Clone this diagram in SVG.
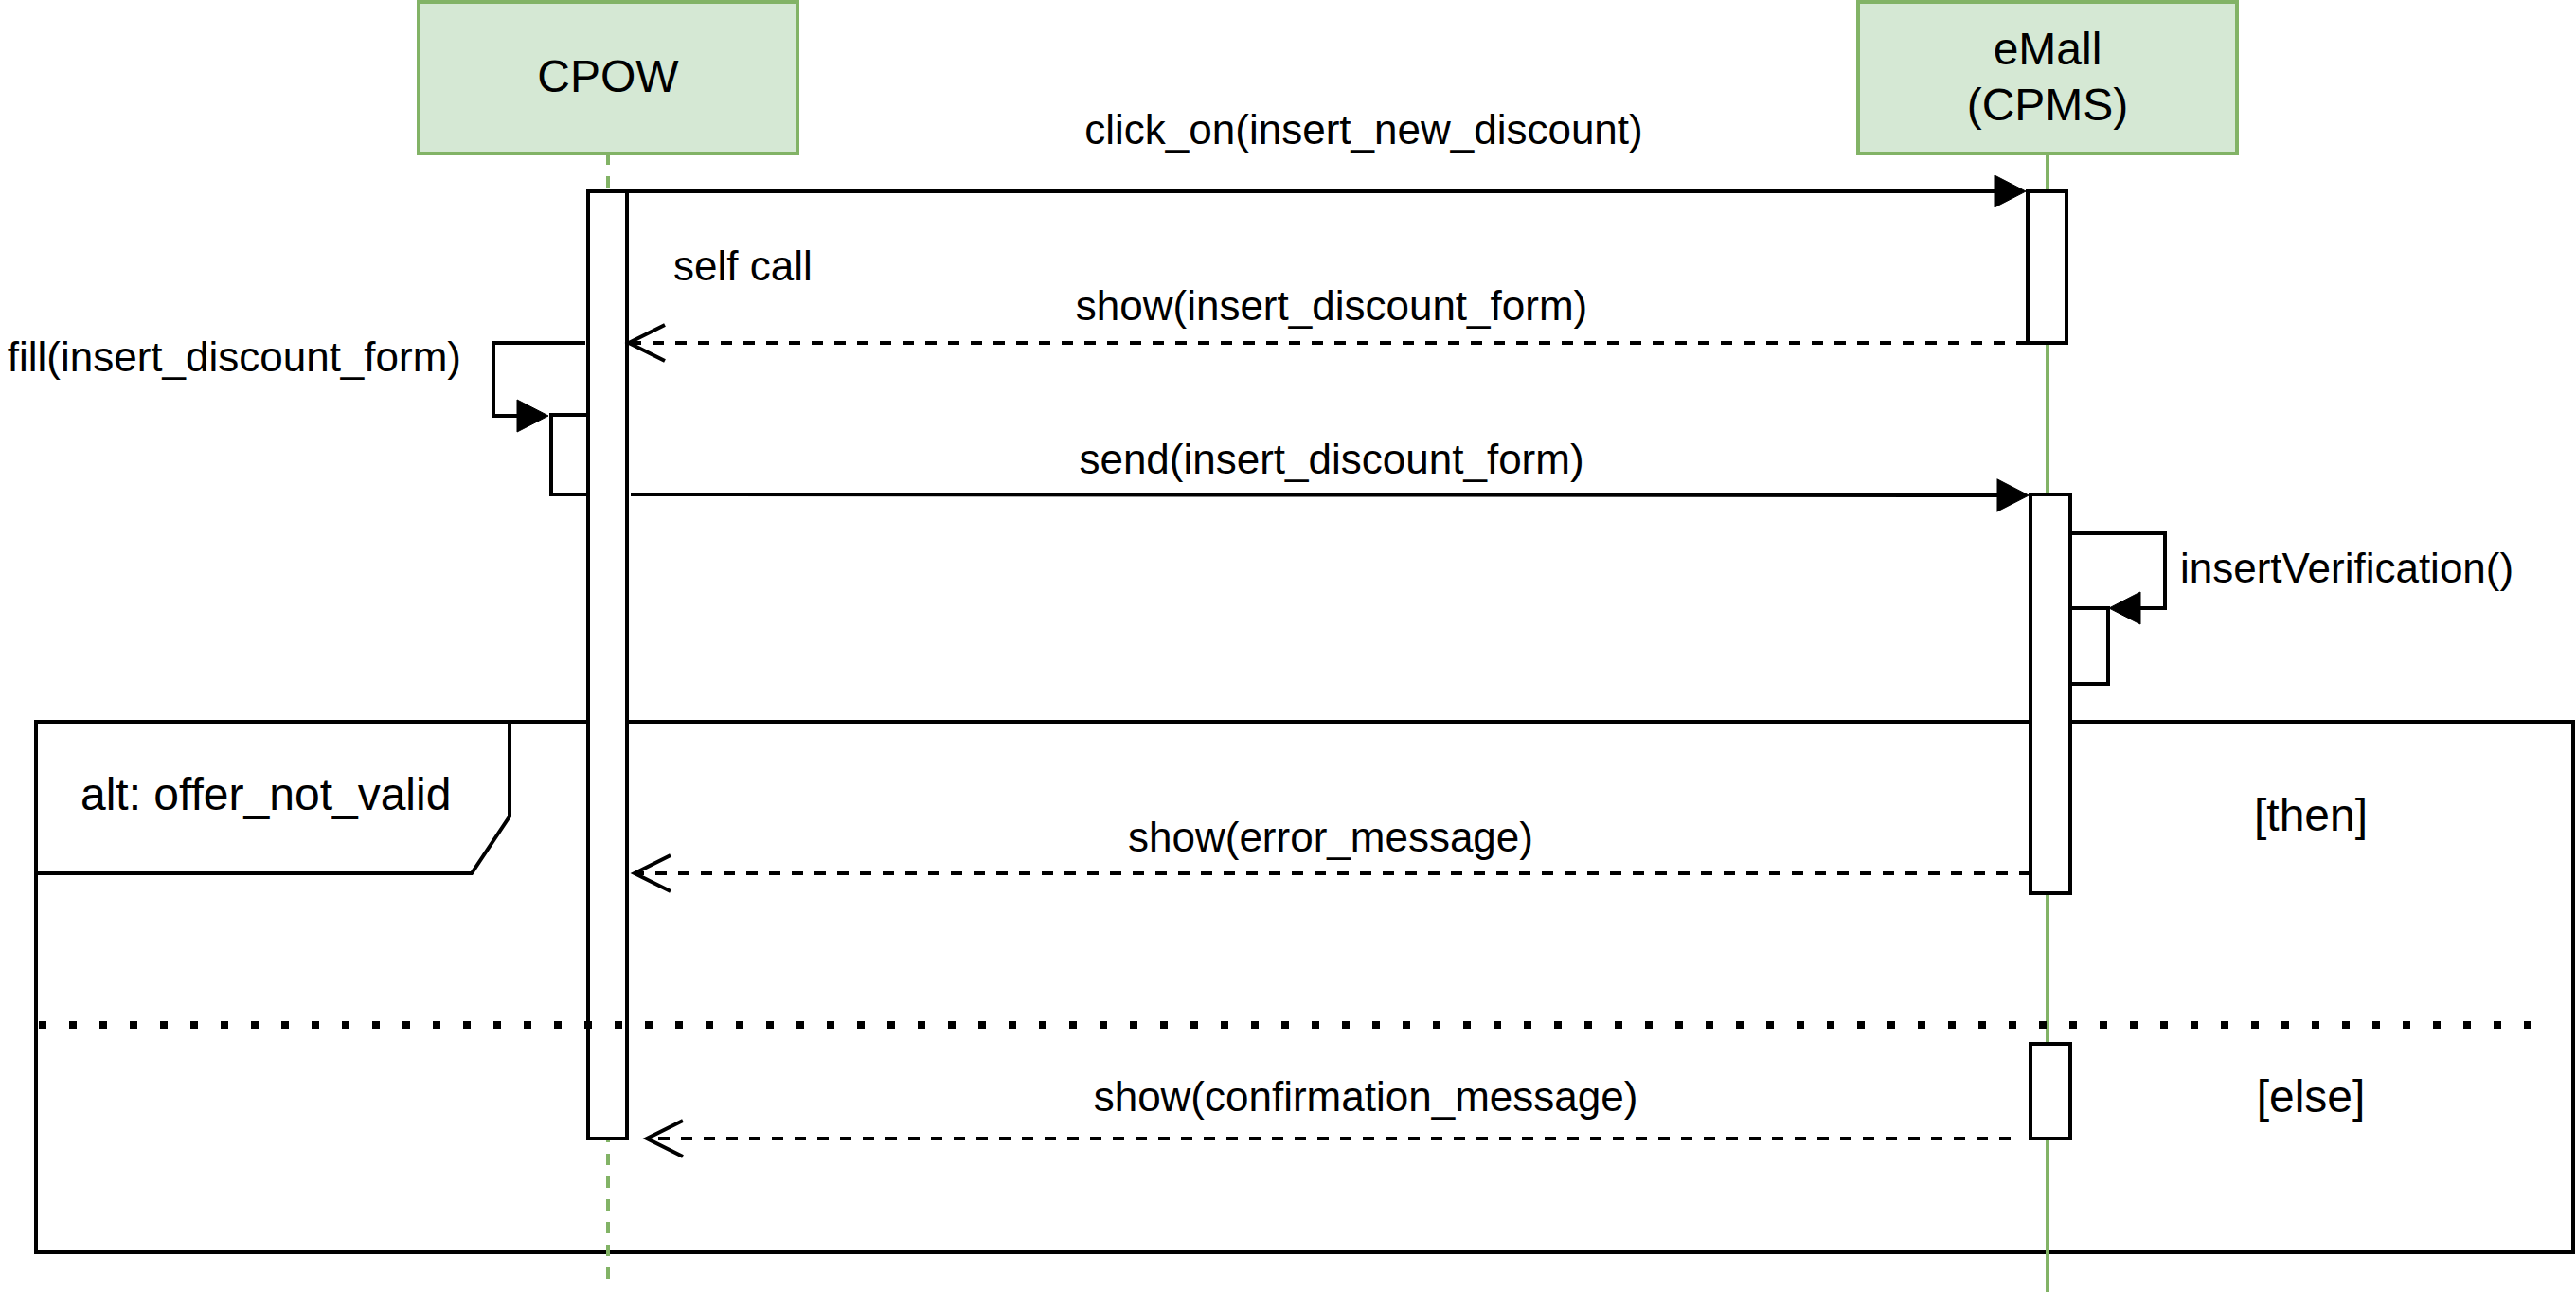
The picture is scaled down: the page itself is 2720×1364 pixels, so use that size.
<svg xmlns="http://www.w3.org/2000/svg" width="2720" height="1364" viewBox="0 0 2720 1364">
<style>
.hdr{fill:#d5e8d4;stroke:#82b366;stroke-width:4}
.life{stroke:#82b366;stroke-width:4;fill:none}
.bar{fill:#ffffff;stroke:#000;stroke-width:4}
.msg{stroke:#000;stroke-width:4;fill:none;stroke-linejoin:miter}
.ret{stroke:#000;stroke-width:4;fill:none;stroke-dasharray:12 12}
.frame{fill:none;stroke:#000;stroke-width:4;stroke-linejoin:miter}
.t48{font-family:"Liberation Sans",Arial,sans-serif;font-size:48px;fill:#000}
.t44{font-family:"Liberation Sans",Arial,sans-serif;font-size:44px;fill:#000}
</style>
<defs>
<marker id="block" markerUnits="userSpaceOnUse" viewBox="-20 -20 44 40" markerWidth="44" markerHeight="40" refX="0" refY="0" orient="auto" overflow="visible">
<path d="M-13,-17 L20,0 L-13,17 Z" fill="#000" stroke="#000" stroke-width="1"/>
</marker>
<marker id="open" markerUnits="userSpaceOnUse" viewBox="-44 -24 48 48" markerWidth="48" markerHeight="48" refX="0" refY="0" orient="auto" overflow="visible">
<path d="M-38,-19 L0,0 L-38,19" fill="none" stroke="#000" stroke-width="4" stroke-linejoin="miter"/>
</marker>
</defs>

<g id="alt-frame">
<rect class="frame" x="38" y="762" width="2679" height="560"/>
<path class="frame" d="M38,762 H538 V862 L498,922 H38"/>
<text class="t48" x="85" y="855">alt: offer_not_valid</text>
<text class="t48" x="2440" y="877" text-anchor="middle">[then]</text>
<text class="t48" x="2440" y="1174" text-anchor="middle">[else]</text>
</g>

<g id="cpow">
<rect class="hdr" x="442" y="2" width="400" height="160"/>
<text class="t48" x="642" y="97" text-anchor="middle">CPOW</text>
<line class="life" x1="642" y1="162" x2="642" y2="1362" stroke-dasharray="12 12"/>
</g>

<g id="emall">
<rect class="hdr" x="1962" y="2" width="400" height="160"/>
<text class="t48" x="2162" y="68" text-anchor="middle">eMall</text>
<text class="t48" x="2162" y="127" text-anchor="middle">(CPMS)</text>
<line class="life" x1="2162" y1="162" x2="2162" y2="1364"/>
</g>

<g id="cpow-activation">
<rect class="bar" x="621" y="202" width="41" height="1000"/>
</g>
<g id="cpow-fill-activation">
<rect class="bar" x="582" y="438" width="39" height="84"/>
</g>
<g id="emall-activation-1">
<rect class="bar" x="2141" y="202" width="41" height="160"/>
</g>
<g id="emall-activation-2">
<rect class="bar" x="2144" y="522" width="42" height="421"/>
</g>
<g id="emall-verification-activation">
<rect class="bar" x="2186" y="642" width="40" height="80"/>
</g>
<g id="emall-activation-3">
<rect class="bar" x="2144" y="1102" width="42" height="100"/>
</g>

<g id="connectors">
<line class="msg" x1="662" y1="202" x2="2119" y2="202" marker-end="url(#block)"/>
<text class="t44" x="1440" y="152" text-anchor="middle">click_on(insert_new_discount)</text>

<line class="ret" x1="2141" y1="362" x2="664" y2="362" marker-end="url(#open)"/>
<text class="t44" x="1406" y="338" text-anchor="middle">show(insert_discount_form)</text>

<path class="msg" d="M618,362 H521 V439 H559" marker-end="url(#block)"/>
<text class="t44" x="487" y="392" text-anchor="end">fill(insert_discount_form)</text>
<text class="t44" x="711" y="296">self call</text>

<line class="msg" x1="666" y1="522" x2="2122" y2="523" marker-end="url(#block)"/>
<text class="t44" x="1406" y="500" text-anchor="middle">send(insert_discount_form)</text>

<path class="msg" d="M2186,563 H2286 V642 H2247" marker-end="url(#block)"/>
<text class="t44" x="2302" y="615">insertVerification()</text>

<line class="ret" x1="2144" y1="922" x2="670" y2="922" marker-end="url(#open)"/>
<text class="t44" x="1405" y="899" text-anchor="middle">show(error_message)</text>

<line class="ret" x1="2123" y1="1202" x2="683" y2="1202" marker-end="url(#open)"/>
<text class="t44" x="1442" y="1173" text-anchor="middle">show(confirmation_message)</text>
</g>

<g id="alt-divider">
<line x1="41" y1="1082" x2="2673" y2="1082" stroke="#000" stroke-width="8" stroke-dasharray="8 24"/>
</g>
</svg>
